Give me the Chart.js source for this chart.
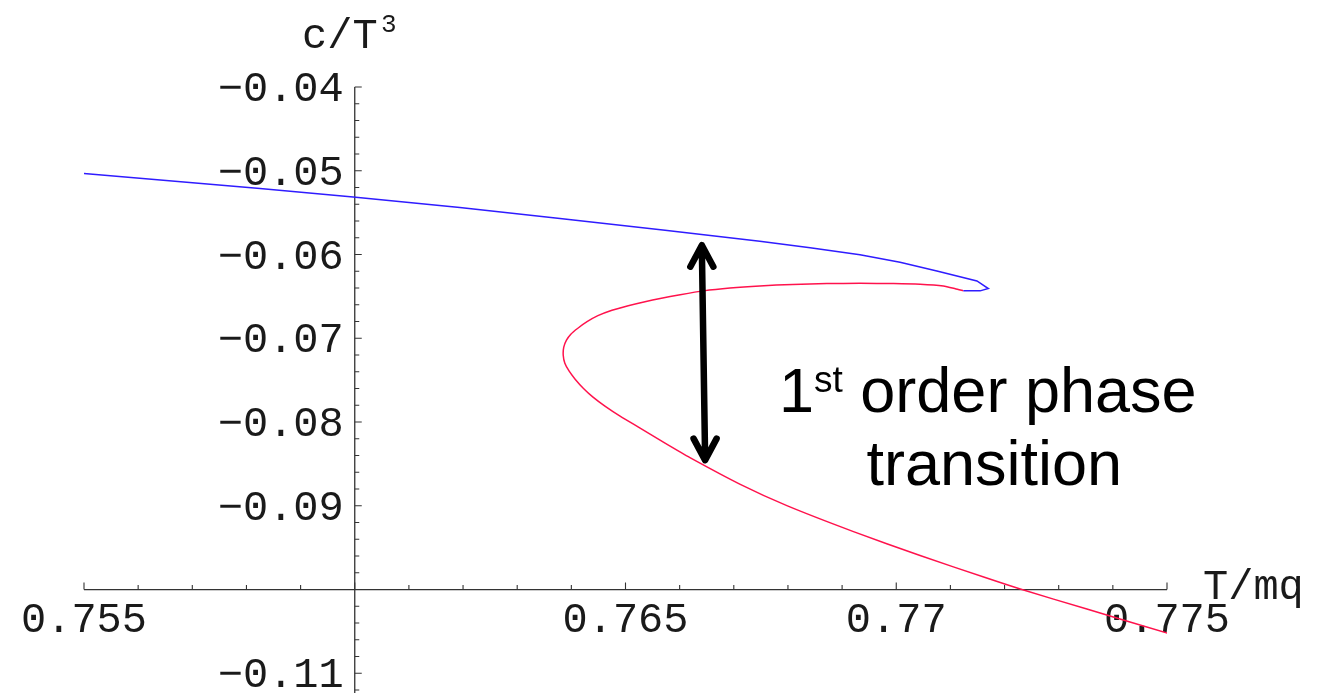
<!DOCTYPE html>
<html>
<head>
<meta charset="utf-8">
<title>c/T^3 versus T/mq</title>
<script src="https://cdn.jsdelivr.net/npm/chart.js@4.4.1/dist/chart.umd.min.js"></script>
<style>
  html, body { margin: 0; padding: 0; background: #ffffff; }
  #wrap { position: relative; width: 1332px; height: 693px; }
</style>
</head>
<body>
<div id="wrap"><canvas id="plot"></canvas></div>
<script>
// Upper (stable) branch
const blueT = [0.75500, 0.75825, 0.75997, 0.76194, 0.76379, 0.76573, 0.76748, 0.76841, 0.76933, 0.77007, 0.77075, 0.77149, 0.77170, 0.77155, 0.77124];
const blueC = [-0.05033, -0.05212, -0.05313, -0.05439, -0.05570, -0.05710, -0.05841, -0.05919, -0.06002, -0.06092, -0.06196, -0.06315, -0.06406, -0.06434, -0.06434];

// Lower branch, continuing from the turning point
const redT = [0.77124, 0.77109, 0.77087, 0.77044, 0.76995, 0.76933, 0.76872, 0.76809, 0.76748, 0.76693, 0.76644, 0.76601,
              0.76564, 0.76536, 0.76505, 0.76475, 0.76449, 0.76429, 0.76412, 0.76399, 0.76391, 0.76386, 0.76385,
              0.76388, 0.76396, 0.76407, 0.76422, 0.76440, 0.76462, 0.76490, 0.76527, 0.76573, 0.76619, 0.76711,
              0.76798, 0.76921, 0.77044, 0.77167, 0.77229, 0.77352, 0.77502];
const redC = [-0.06434, -0.06408, -0.06375, -0.06354, -0.06346, -0.06344, -0.06346, -0.06357, -0.06375, -0.06400, -0.06434, -0.06480,
              -0.06525, -0.06563, -0.06611, -0.06665, -0.06730, -0.06802, -0.06880, -0.06951, -0.07023, -0.07106, -0.07202,
              -0.07297, -0.07393, -0.07488, -0.07596, -0.07703, -0.07810, -0.07930, -0.08073, -0.08252, -0.08425, -0.08741,
              -0.08998, -0.09308, -0.09594, -0.09863, -0.09994, -0.10233, -0.10523];

// Axis ranges, crossing point and tick labels
const tRange = [0.755, 0.775];
const cRange = [-0.11235, -0.04];
const axisCross = { t: 0.76, c: -0.10 };
const tTickValues = [0.755, 0.765, 0.77, 0.775];
const tTickLabels = ['0.755', '0.765', '0.77', '0.775'];
const cTickValues = [-0.04, -0.05, -0.06, -0.07, -0.08, -0.09, -0.11];
const cTickLabels = ['\u22120.04', '\u22120.05', '\u22120.06', '\u22120.07', '\u22120.08', '\u22120.09', '\u22120.11'];
const tMinorStep = 0.001, tMajorEvery = 5;
const cMinorStep = 0.002, cMajorEvery = 5;

// Annotation: double arrow between the branches and its two-line caption
const arrowEnds = [{ t: 0.76641, c: -0.05889 }, { t: 0.76647, c: -0.08455 }];
const captionT = [0.77169, 0.77181];
const captionC = [-0.07878, -0.08753];

const pts = (xs, ys) => xs.map((v, i) => ({ x: v, y: ys[i] }));

const MONO = '"Liberation Mono", "DejaVu Sans Mono", monospace';
const SANS = '"Liberation Sans", Arial, sans-serif';

const crossAxes = {
  id: 'crossAxes',
  beforeDatasetsDraw(chart) {
    const { ctx, chartArea } = chart;
    const xs = chart.scales.x, ys = chart.scales.y;
    const x0 = xs.getPixelForValue(axisCross.t);
    const y0 = ys.getPixelForValue(axisCross.c);
    ctx.save();
    ctx.strokeStyle = '#333333';
    ctx.lineWidth = 1.3;
    ctx.beginPath();
    ctx.moveTo(xs.getPixelForValue(tRange[0]), y0);
    ctx.lineTo(xs.getPixelForValue(tRange[1]), y0);
    ctx.moveTo(x0, ys.getPixelForValue(cRange[1]));
    ctx.lineTo(x0, chartArea.bottom);
    ctx.stroke();

    // ticks on the horizontal axis point upward
    ctx.lineWidth = 1.1;
    ctx.beginPath();
    const nT = Math.round((tRange[1] - tRange[0]) / tMinorStep);
    for (let i = 0; i <= nT; i++) {
      const px = xs.getPixelForValue(tRange[0] + i * tMinorStep);
      const len = (i % tMajorEvery === 0) ? 7 : 4.5;
      ctx.moveTo(px, y0);
      ctx.lineTo(px, y0 - len);
    }
    // ticks on the vertical axis point right
    for (let i = 0; ; i++) {
      const v = cRange[1] - i * cMinorStep;
      if (v < cRange[0]) break;
      const py = ys.getPixelForValue(v);
      const len = (i % cMajorEvery === 0) ? 7 : 4.5;
      ctx.moveTo(x0, py);
      ctx.lineTo(x0 + len, py);
    }
    ctx.stroke();

    ctx.fillStyle = '#1a1a1a';
    ctx.font = '42px ' + MONO;
    ctx.textAlign = 'center';
    ctx.textBaseline = 'alphabetic';
    tTickValues.forEach((v, i) => {
      ctx.fillText(tTickLabels[i], xs.getPixelForValue(v), y0 + 42);
    });
    ctx.textAlign = 'right';
    cTickValues.forEach((v, i) => {
      ctx.fillText(cTickLabels[i], x0 - 11, ys.getPixelForValue(v) + 14);
    });

    // axis titles
    ctx.textAlign = 'left';
    ctx.font = '42px ' + MONO;
    ctx.fillText('c/T', 302, 48);
    ctx.font = '26px ' + MONO;
    ctx.fillText('3', 381, 32);
    ctx.font = '42px ' + MONO;
    ctx.fillText('T/mq', 1203, 599);
    ctx.restore();
  },
  afterDraw(chart) {
    const { ctx } = chart;
    const xs = chart.scales.x, ys = chart.scales.y;
    const a = { x: xs.getPixelForValue(arrowEnds[0].t), y: ys.getPixelForValue(arrowEnds[0].c) };
    const b = { x: xs.getPixelForValue(arrowEnds[1].t), y: ys.getPixelForValue(arrowEnds[1].c) };
    ctx.save();
    ctx.strokeStyle = '#000000';
    ctx.lineWidth = 6.5;
    ctx.lineCap = 'round';
    ctx.lineJoin = 'round';
    ctx.beginPath();
    ctx.moveTo(a.x, a.y + 3);
    ctx.lineTo(b.x, b.y - 3);
    ctx.moveTo(a.x - 11.5, a.y + 21.5);
    ctx.lineTo(a.x, a.y);
    ctx.lineTo(a.x + 11.5, a.y + 21.5);
    ctx.moveTo(b.x - 11.5, b.y - 21.5);
    ctx.lineTo(b.x, b.y);
    ctx.lineTo(b.x + 11.5, b.y - 21.5);
    ctx.stroke();

    // caption, line one carries a superscript
    const cx1 = xs.getPixelForValue(captionT[0]);
    const cx2 = xs.getPixelForValue(captionT[1]);
    const base1 = ys.getPixelForValue(captionC[0]);
    const base2 = ys.getPixelForValue(captionC[1]);
    ctx.fillStyle = '#000000';
    ctx.textBaseline = 'alphabetic';
    ctx.textAlign = 'left';
    ctx.font = '63px ' + SANS;
    const w1 = ctx.measureText('1').width;
    const w3 = ctx.measureText(' order phase').width;
    ctx.font = '37px ' + SANS;
    const w2 = ctx.measureText('st').width;
    let x = cx1 - (w1 + w2 + w3) / 2;
    ctx.font = '63px ' + SANS;
    ctx.fillText('1', x, base1);
    x += w1;
    ctx.font = '37px ' + SANS;
    ctx.fillText('st', x, base1 - 20);
    x += w2;
    ctx.font = '63px ' + SANS;
    ctx.fillText(' order phase', x, base1);
    ctx.textAlign = 'center';
    ctx.fillText('transition', cx2, base2);
    ctx.restore();
  }
};

new Chart(document.getElementById('plot'), {
  type: 'scatter',
  data: {
    datasets: [
      {
        label: 'upper branch',
        data: pts(blueT, blueC),
        showLine: true,
        borderColor: '#2f1cff',
        borderWidth: 1.5,
        pointRadius: 0,
        tension: 0
      },
      {
        label: 'lower branch',
        data: pts(redT, redC),
        showLine: true,
        borderColor: '#ff124c',
        borderWidth: 1.5,
        pointRadius: 0,
        tension: 0.2
      }
    ]
  },
  options: {
    responsive: true,
    maintainAspectRatio: false,
    animation: false,
    events: [],
    layout: { padding: { left: 84, right: 165, top: 87, bottom: 0 } },
    plugins: { legend: { display: false }, tooltip: { enabled: false } },
    scales: {
      x: { type: 'linear', min: tRange[0], max: tRange[1], display: false },
      y: { type: 'linear', min: cRange[0], max: cRange[1], display: false }
    }
  },
  plugins: [crossAxes]
});
</script>
</body>
</html>
